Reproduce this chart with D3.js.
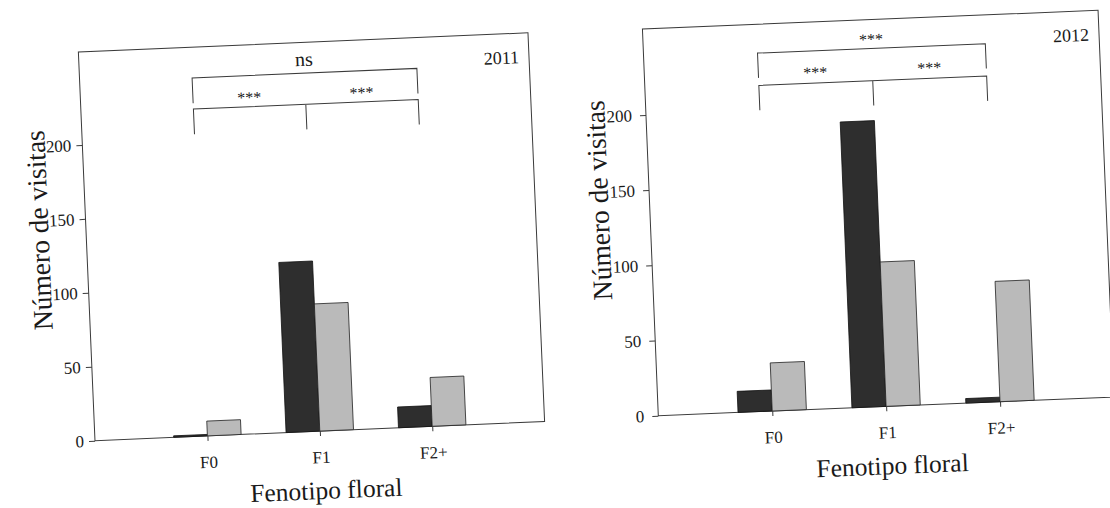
<!DOCTYPE html>
<html>
<head>
    <meta charset="utf-8">
    <title>Visitas por fenotipo floral</title>
    <script src="https://cdnjs.cloudflare.com/ajax/libs/d3/7.8.5/d3.min.js"></script>
    <style>
        body { margin: 0; background: #fff; }
        text { font-family: "Liberation Serif", "Times New Roman", serif; fill: #1a1a1a; }
    </style>
</head>
<body>
<script>
    // data
    var categories = ["F0", "F1", "F2+"];
    var yTickValues = [0, 50, 100, 150, 200];
    var dark2011 = [1, 115, 14];
    var light2011 = [10, 86, 33];
    var dark2012 = [14, 190, 3];
    var light2012 = [32, 96, 80];
    var signif2011 = ["***", "***", "ns"];
    var signif2012 = ["***", "***", "***"];

    var width = 1110,
        height = 508,
        darkFill = "#2e2e2e",
        lightFill = "#bababa",
        lineColor = "#3a3a3a";

    var svg = d3.select("body").append("svg")
        .attr("width", width)
        .attr("height", height);

    svg.append("rect").attr("width", width).attr("height", height).attr("fill", "#fff");

    // the scan is slightly rotated, so each panel gets its own frame
    var panels = [
        {year: "2011", dark: dark2011, light: light2011, signif: signif2011,
         ox: 95, oy: 440.7, angle: -2.45, w: 450, h: 389, yMax: 262.8, pad: 5,
         labX: -46.6, labY: 212.6,
         lower: [204, 221], upper: [225, 242], lowText: 229, upText: 250},
        {year: "2012", dark: dark2012, light: light2012, signif: signif2012,
         ox: 658.3, oy: 415.7, angle: -2.35, w: 456, h: 387, yMax: 257.1, pad: 8,
         labX: -50.4, labY: 217.6,
         lower: [200, 216.5], upper: [221.5, 238], lowText: 225.3, upText: 245.8}
    ];

    panels.forEach(drawPanel);

    function drawPanel(p){
        var g = svg.append("g")
            .attr("transform", "translate(" + p.ox + "," + p.oy + ") rotate(" + p.angle + ")");

        var x = d3.scalePoint()
            .domain(categories)
            .range([0, p.w])
            .padding(1);

        var y = d3.scaleLinear()
            .domain([0, p.yMax])
            .range([0, -p.h]);

        var bw = x.step() * 0.3;

        // frame
        g.append("rect")
            .attr("x", 0)
            .attr("y", -p.h)
            .attr("width", p.w)
            .attr("height", p.h)
            .attr("fill", "none")
            .attr("stroke", lineColor)
            .attr("stroke-width", 1);

        // bars
        g.append("g").selectAll("rect")
            .data(p.dark)
            .enter().append("rect")
            .attr("x", function(d, i){ return x(categories[i]) - bw; })
            .attr("y", function(d){ return y(d); })
            .attr("width", bw)
            .attr("height", function(d){ return y(0) - y(d); })
            .attr("fill", darkFill)
            .attr("stroke", "#111")
            .attr("stroke-width", 0.8);

        g.append("g").selectAll("rect")
            .data(p.light)
            .enter().append("rect")
            .attr("x", function(d, i){ return x(categories[i]); })
            .attr("y", function(d){ return y(d); })
            .attr("width", bw)
            .attr("height", function(d){ return y(0) - y(d); })
            .attr("fill", lightFill)
            .attr("stroke", "#222")
            .attr("stroke-width", 0.8);

        // axes
        var yAxis = g.append("g")
            .call(d3.axisLeft(y).tickValues(yTickValues).tickSize(6).tickPadding(p.pad));
        var xAxis = g.append("g")
            .call(d3.axisBottom(x).tickSize(5).tickPadding(15));

        [yAxis, xAxis].forEach(function(a){
            a.select(".domain").remove();
            a.selectAll("line").attr("stroke", lineColor);
            a.selectAll("text")
                .attr("font-family", "Liberation Serif, Times New Roman, serif")
                .attr("font-size", 17)
                .attr("fill", "#1a1a1a");
        });

        // axis titles
        g.append("text")
            .attr("transform", "translate(" + p.labX + "," + (-p.labY) + ") rotate(-90)")
            .attr("text-anchor", "middle")
            .attr("dy", "0.33em")
            .attr("font-size", 27.5)
            .text("Número de visitas");

        g.append("text")
            .attr("x", p.w / 2 + 4)
            .attr("y", 68)
            .attr("text-anchor", "middle")
            .attr("font-size", 25.5)
            .text("Fenotipo floral");

        // year
        g.append("text")
            .attr("x", p.w - 10)
            .attr("y", -p.h + 30)
            .attr("text-anchor", "end")
            .attr("font-size", 18)
            .text(p.year);

        // significance brackets
        var x0 = x(categories[0]), x1 = x(categories[1]), x2 = x(categories[2]);
        var br = g.append("g")
            .attr("fill", "none")
            .attr("stroke", lineColor)
            .attr("stroke-width", 1);

        br.append("path")
            .attr("d", "M" + x0 + "," + y(p.lower[0]) + "V" + y(p.lower[1]) +
                "H" + x2 + "V" + y(p.lower[0]) +
                "M" + x1 + "," + y(p.lower[1]) + "V" + y(p.lower[0]));

        br.append("path")
            .attr("d", "M" + x0 + "," + y(p.upper[0]) + "V" + y(p.upper[1]) +
                "H" + x2 + "V" + y(p.upper[0]));

        var marks = [
            {t: p.signif[0], cx: (x0 + x1) / 2, cy: p.lowText},
            {t: p.signif[1], cx: (x1 + x2) / 2, cy: p.lowText},
            {t: p.signif[2], cx: x1, cy: p.upText}
        ];

        g.append("g").selectAll("text")
            .data(marks)
            .enter().append("text")
            .attr("x", function(d){ return d.cx; })
            .attr("y", function(d){
                var fs = d.t === "ns" ? 20 : 16;
                return y(d.cy) + (d.t === "ns" ? 0.23 : 0.5) * fs;
            })
            .attr("text-anchor", "middle")
            .attr("font-size", function(d){ return d.t === "ns" ? 20 : 16; })
            .text(function(d){ return d.t; });
    }
</script>
</body>
</html>
